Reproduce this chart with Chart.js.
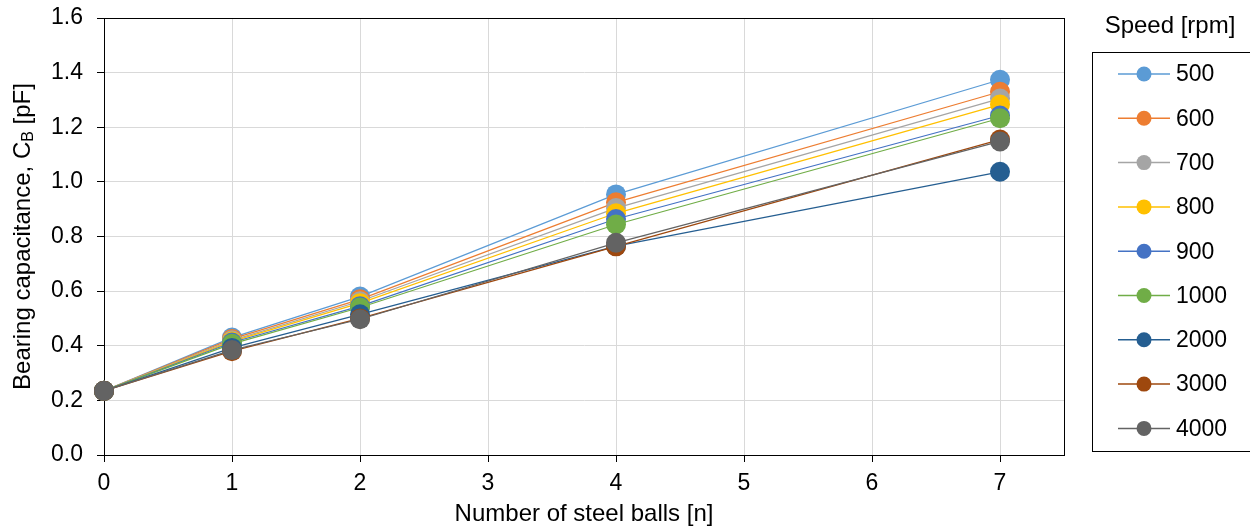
<!DOCTYPE html>
<html>
<head>
<meta charset="utf-8">
<script src="https://cdn.jsdelivr.net/npm/chart.js@4"></script>
<style>
  html, body { margin: 0; padding: 0; background: #fff; }
  #wrap { width: 1250px; height: 531px; }
</style>
</head>
<body>
<div id="wrap"><canvas id="myChart" width="1250" height="531"></canvas></div>
<script>
// number of steel balls (x)
var balls = [0, 1, 2, 4, 7];
var speeds = ['500', '600', '700', '800', '900', '1000', '2000', '3000', '4000'];
var colors = ['#5B9BD5', '#ED7D31', '#A5A5A5', '#FFC000', '#4472C4', '#70AD47', '#255E91', '#9E480E', '#636363'];

// bearing capacitance [pF] per speed
var cb500  = [0.235, 0.430, 0.580, 0.954, 1.374];
var cb600  = [0.235, 0.425, 0.570, 0.925, 1.330];
var cb700  = [0.235, 0.420, 0.563, 0.904, 1.305];
var cb800  = [0.235, 0.416, 0.556, 0.885, 1.283];
var cb900  = [0.235, 0.412, 0.545, 0.864, 1.243];
var cb1000 = [0.235, 0.407, 0.540, 0.844, 1.233];
var cb2000 = [0.235, 0.392, 0.515, 0.765, 1.037];
var cb3000 = [0.235, 0.380, 0.500, 0.764, 1.155];
var cb4000 = [0.235, 0.384, 0.497, 0.777, 1.148];
var series = [cb500, cb600, cb700, cb800, cb900, cb1000, cb2000, cb3000, cb4000];

var yTicks = [0, 0.2, 0.4, 0.6, 0.8, 1.0, 1.2, 1.4, 1.6];

var FONT = '"Liberation Sans", Arial, sans-serif';

var datasets = series.map(function (vals, i) {
    return {
        label: speeds[i],
        data: vals.map(function (v, j) { return { x: balls[j], y: v }; }),
        borderColor: colors[i],
        backgroundColor: colors[i],
        pointBackgroundColor: colors[i],
        pointBorderColor: colors[i],
        borderWidth: 1.25,
        pointRadius: 10,
        pointHoverRadius: 10,
        pointBorderWidth: 0,
        clip: false,
        order: series.length - i  // last series on top, like Excel
    };
});

// plot frame + y title with subscript + boxed legend
var extras = {
    id: 'extras',
    beforeDatasetsDraw: function (chart) {
        var a = chart.chartArea, ctx = chart.ctx;
        ctx.save();
        ctx.strokeStyle = '#000';
        ctx.lineWidth = 1;
        ctx.strokeRect(Math.round(a.left) + 0.5, Math.round(a.top) + 0.5,
            Math.round(a.right - a.left), Math.round(a.bottom - a.top));
        ctx.restore();
    },
    afterDraw: function (chart) {
        var ctx = chart.ctx, a = chart.chartArea;
        ctx.save();
        // y axis title
        ctx.translate(23, (a.top + a.bottom) / 2);
        ctx.rotate(-Math.PI / 2);
        ctx.fillStyle = '#000';
        ctx.textBaseline = 'middle';
        var big = '24px ' + FONT, small = '16px ' + FONT;
        var p1 = 'Bearing capacitance, C', p2 = 'B', p3 = ' [pF]';
        ctx.font = big; var w1 = ctx.measureText(p1).width, w3 = ctx.measureText(p3).width;
        ctx.font = small; var w2 = ctx.measureText(p2).width;
        var x0 = -(w1 + w2 + w3) / 2;
        ctx.font = big; ctx.fillText(p1, x0, 0);
        ctx.font = small; ctx.fillText(p2, x0 + w1, 6);
        ctx.font = big; ctx.fillText(p3, x0 + w1 + w2, 0);
        ctx.restore();

        // legend
        ctx.save();
        ctx.fillStyle = '#000';
        ctx.font = '24px ' + FONT;
        ctx.textAlign = 'center';
        ctx.textBaseline = 'middle';
        ctx.fillText('Speed [rpm]', 1170, 26);
        ctx.strokeStyle = '#000';
        ctx.lineWidth = 1;
        ctx.strokeRect(1092.5, 52.5, 170, 399);
        ctx.font = '23px ' + FONT;
        ctx.textAlign = 'left';
        chart.data.datasets.forEach(function (ds, i) {
            var y = 74 + i * 44.3;
            ctx.strokeStyle = ds.borderColor;
            ctx.lineWidth = 1.5;
            ctx.beginPath(); ctx.moveTo(1118, y); ctx.lineTo(1170, y); ctx.stroke();
            ctx.fillStyle = ds.backgroundColor;
            ctx.beginPath(); ctx.arc(1144, y, 7.5, 0, Math.PI * 2); ctx.fill();
            ctx.fillStyle = '#000';
            ctx.fillText(ds.label, 1176, y + 1);
        });
        ctx.restore();
    }
};

var ctx = document.getElementById('myChart').getContext('2d');
var chart = new Chart(ctx, {
    type: 'line',
    data: { datasets: datasets },
    plugins: [extras],
    options: {
        responsive: false,
        animation: false,
        events: [],
        layout: { padding: { left: 0, top: 18, right: 186, bottom: 0 } },
        plugins: { legend: { display: false }, tooltip: { enabled: false } },
        scales: {
            x: {
                type: 'linear',
                min: 0,
                max: 7.5,
                afterFit: function (s) { s.height = 76; s.paddingLeft = 0; s.paddingRight = 0; },
                ticks: { stepSize: 1, includeBounds: false, padding: 8, color: '#000', font: { family: FONT, size: 23 } },
                grid: { color: '#D9D9D9', lineWidth: 1, tickColor: '#000', tickLength: 7 },
                border: { color: '#000', width: 1 },
                title: { display: true, text: 'Number of steel balls [n]', color: '#000', font: { family: FONT, size: 24 }, padding: { top: 4, bottom: 2 } }
            },
            y: {
                min: 0,
                max: 1.6,
                afterFit: function (s) { s.width = 104; s.paddingTop = 0; s.paddingBottom = 0; },
                afterBuildTicks: function (s) { s.ticks = yTicks.map(function (v) { return { value: v }; }); },
                ticks: {
                    padding: 14, color: '#000', font: { family: FONT, size: 23 },
                    callback: function (v) { return v.toFixed(1); }
                },
                grid: { color: '#D9D9D9', lineWidth: 1, tickColor: '#000', tickLength: 7 },
                border: { color: '#000', width: 1 }
            }
        }
    }
});
</script>
</body>
</html>
